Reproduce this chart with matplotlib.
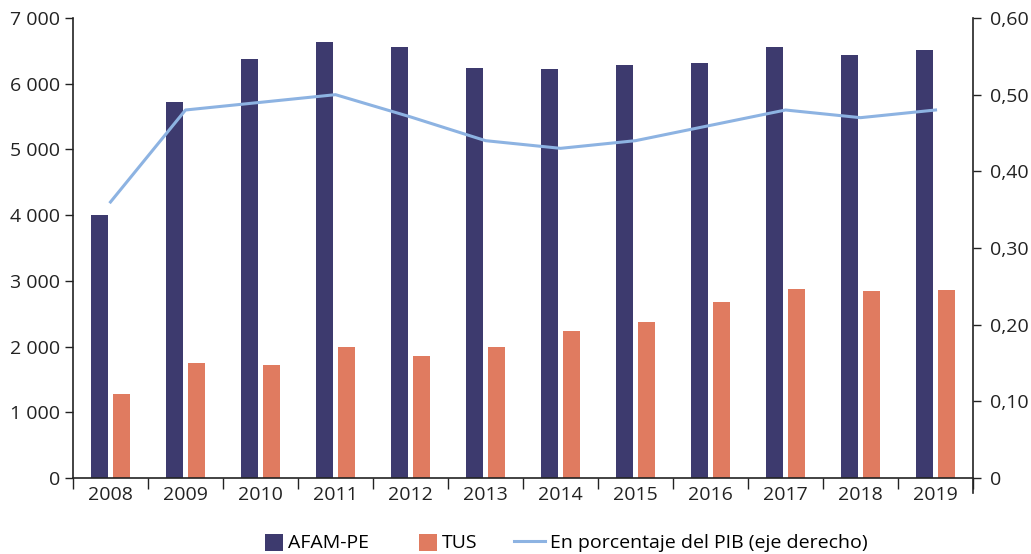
import numpy as np
import matplotlib
matplotlib.use("Agg")
import matplotlib.pyplot as plt
from matplotlib.ticker import FuncFormatter
from matplotlib.patches import Rectangle
from matplotlib.legend_handler import HandlerPatch

years = ["2008", "2009", "2010", "2011", "2012", "2013",
         "2014", "2015", "2016", "2017", "2018", "2019"]
afam_pe = [4000, 5720, 6380, 6635, 6565, 6240, 6225, 6285, 6315, 6565, 6440, 6515]
tus = [1280, 1750, 1720, 1995, 1855, 1995, 2235, 2375, 2680, 2875, 2845, 2860]
pct_pib = [0.360, 0.480, 0.490, 0.500, 0.471, 0.440, 0.430, 0.440, 0.460, 0.480, 0.470, 0.480]

c_afam = "#3d3a6e"
c_tus = "#e07b60"
c_line = "#8db3e2"

plt.rcParams['font.family'] = ['Open Sans', 'DejaVu Sans']


def square_patch(legend, orig_handle, xdescent, ydescent, width, height, fontsize):
    # cuadrado a la derecha del espacio del handle
    s = height * 1.1
    return Rectangle((width - s - xdescent, -ydescent - 0.1 * height), s, s)


fig = plt.figure(figsize=(10.31, 5.54), dpi=100)
ax = fig.add_axes([0.0708, 0.1372, 0.873, 0.8303])
ax2 = ax.twinx()

x = np.arange(len(years))
w = 0.23
b1 = ax.bar(x - 0.147, afam_pe, w, color=c_afam, zorder=2)
b2 = ax.bar(x + 0.147, tus, w, color=c_tus, zorder=2)
ln, = ax2.plot(x, pct_pib, color=c_line, lw=2.2)

ax.set_xlim(-0.5, len(years) - 0.5)
ax.set_ylim(0, 7000)
ax2.set_ylim(0, 0.6)

ax.set_yticks(range(0, 7001, 1000))
ax.yaxis.set_major_formatter(FuncFormatter(lambda v, p: f"{int(v):,}".replace(",", " ")))
ax2.set_yticks(np.arange(0, 0.61, 0.1))
ax2.yaxis.set_major_formatter(FuncFormatter(lambda v, p: "0" if v == 0 else f"{v:.2f}".replace(".", ",")))

# x: marcas entre categorias, etiquetas centradas
ax.set_xticks(np.arange(-0.5, len(years), 1.0))
ax.set_xticklabels([])
ax.set_xticks(x, minor=True)
ax.set_xticklabels(years, minor=True)
ax.tick_params(axis="x", which="major", length=8, width=1, direction="out", color="#222222")
ax.tick_params(axis="x", which="minor", length=0, pad=6, labelsize=14, labelcolor="#222222")
ax.tick_params(axis="y", length=6, width=1, labelsize=14, labelcolor="#222222", color="#222222", pad=3)
ax2.tick_params(axis="y", length=6, width=1, labelsize=14, labelcolor="#222222", color="#222222", pad=6)

for a in (ax, ax2):
    a.spines["top"].set_visible(False)
    for s in ("left", "right", "bottom"):
        a.spines[s].set_color("#222222")
        a.spines[s].set_linewidth(1.2)
ax2.spines["left"].set_visible(False)
ax2.spines["bottom"].set_visible(False)
ax.spines["right"].set_visible(False)
ax2.spines["right"].set_bounds(-0.02, 0.6)

fig.legend([b1.patches[0], b2.patches[0], ln],
           ["AFAM-PE", "TUS", "En porcentaje del PIB (eje derecho)"],
           loc="center", bbox_to_anchor=(0.543, 0.02),
           ncol=3, frameon=False, fontsize=14, handlelength=1.6, handleheight=0.9,
           columnspacing=1.9, handletextpad=0.25,
           handler_map={Rectangle: HandlerPatch(patch_func=square_patch)})

fig.savefig("out.png", dpi=100)
